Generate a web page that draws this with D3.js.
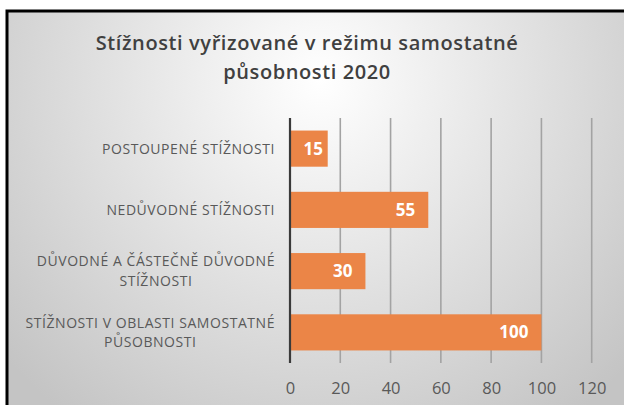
<!DOCTYPE html>
<html><head><meta charset="utf-8">
<script src="https://cdn.jsdelivr.net/npm/d3@7"></script>
<style>body{margin:0;background:#fff;}svg{display:block;}</style>
</head><body>
<svg id="c" width="624" height="405"></svg>
<script>
const titleLines = ["Stížnosti vyřizované v režimu samostatné", "působnosti  2020"];
const categories = [
  ["POSTOUPENÉ STÍŽNOSTI"],
  ["NEDŮVODNÉ STÍŽNOSTI"],
  ["DŮVODNÉ A ČÁSTEČNĚ DŮVODNÉ", "STÍŽNOSTI"],
  ["STÍŽNOSTI V OBLASTI SAMOSTATNÉ", "PŮSOBNOSTI"]
];
const values = [15, 55, 30, 100];
const xTicks = [0, 20, 40, 60, 80, 100, 120];

const svg = d3.select("#c");
const font = "'Open Sans', sans-serif";

const defs = svg.append("defs");
const g = defs.append("radialGradient").attr("id","bg")
  .attr("gradientUnits","userSpaceOnUse")
  .attr("cx",320).attr("cy",80).attr("r",420);
g.append("stop").attr("offset","0").attr("stop-color","#ffffff");
g.append("stop").attr("offset","1").attr("stop-color","#c4c4c4");

svg.append("rect").attr("x",7).attr("y",11).attr("width",640).attr("height",420)
  .attr("fill","url(#bg)").attr("stroke","#000").attr("stroke-width",3);

const x = d3.scaleLinear().domain([0,120]).range([290, 591.7]);
const y = d3.scaleBand().domain(d3.range(categories.length)).range([118, 363])
  .paddingInner(0.41).paddingOuter(0.205);

// gridlines
svg.append("g").selectAll("line").data(xTicks.filter(t=>t>0)).join("line")
  .attr("x1",d=>x(d)).attr("x2",d=>x(d)).attr("y1",118).attr("y2",363)
  .attr("stroke","#a3a3a3").attr("stroke-width",1.6);

// bars
svg.append("g").selectAll("rect").data(values).join("rect")
  .attr("x",x(0)).attr("y",(d,i)=>y(i)).attr("width",d=>x(d)-x(0)).attr("height",y.bandwidth())
  .attr("fill","#EB8547");

// axis line
svg.append("line").attr("x1",x(0)).attr("x2",x(0)).attr("y1",118).attr("y2",363)
  .attr("stroke","#3a3a3a").attr("stroke-width",2.2);

// value labels
svg.append("g").selectAll("text").data(values).join("text")
  .attr("x",d=>Math.max(x(d)-13, x(0)+33)).attr("y",(d,i)=>y(i)+y.bandwidth()/2)
  .attr("dy","0.36em").attr("text-anchor","end")
  .attr("fill","#fff").attr("font-family",font).attr("font-weight","bold").attr("font-size",17)
  .text(d=>d);

// x tick labels
const xAxis = d3.axisBottom(x).tickValues(xTicks).tickSize(0).tickPadding(0);
const ax = svg.append("g").attr("transform","translate(0,382)").call(xAxis);
ax.select(".domain").remove();
ax.selectAll("text").attr("font-family",font).attr("font-size",16.5).attr("fill","#595959");

// category labels
const cat = svg.append("g").selectAll("g").data(categories).join("g");
cat.each(function(lines,i){
  const sel = d3.select(this);
  const cy = y(i)+y.bandwidth()/2;
  const lh = 19.5;
  const t = sel.append("text").attr("font-family",font).attr("font-size",14).attr("fill","#595959")
    .attr("letter-spacing",0.55).attr("text-anchor","middle");
  lines.forEach((l,k)=>{
    t.append("tspan").attr("x",0).attr("y",cy + (k-(lines.length-1)/2)*lh).attr("dy","0.35em").text(l);
  });
  const w = t.node().getBBox().width;
  t.attr("transform",`translate(${275 - w/2},0)`);
});

// title
svg.append("text").attr("text-anchor","middle")
  .attr("font-family",font).attr("font-weight","600").attr("font-size",20).attr("fill","#404040")
  .attr("letter-spacing",0.6)
  .selectAll("tspan").data(titleLines).join("tspan")
  .attr("x",307).attr("y",(d,i)=>50 + i*29).text(d=>d);
</script>
</body></html>
